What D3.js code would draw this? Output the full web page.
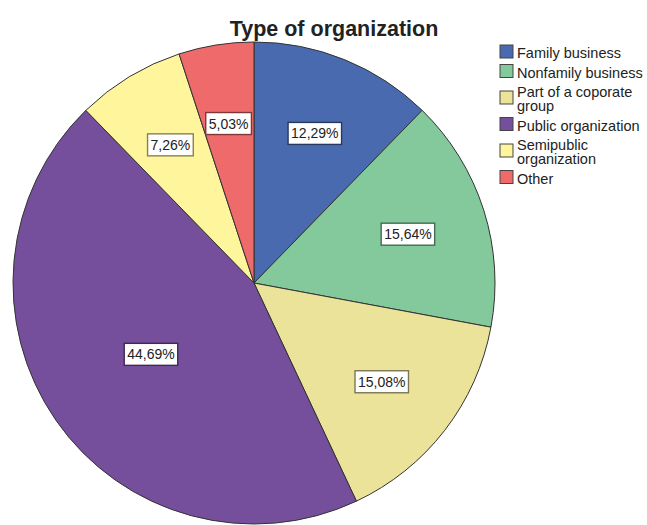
<!DOCTYPE html>
<html>
<head>
<meta charset="utf-8">
<script src="https://cdn.jsdelivr.net/npm/d3@7"></script>
<style>
  body { margin: 0; background: #fff; }
  svg { display: block; font-family: "Liberation Sans", Arial, sans-serif; }
</style>
</head>
<body>
<svg id="chart" width="647" height="525"></svg>
<script>
// data
const categories = ["Family business", "Nonfamily business", "Part of a coporate group",
  "Public organization", "Semipublic organization", "Other"];
const percents = [12.29, 15.64, 15.08, 44.69, 7.26, 5.03];
const legendLines = [["Family business"], ["Nonfamily business"], ["Part of a coporate", "group"],
  ["Public organization"], ["Semipublic", "organization"], ["Other"]];
const colors = ["#4a6ab0", "#83c99b", "#ece39b", "#754f9b", "#fff59d", "#ef6a6b"];

const width = 647, height = 525;
const cx = 254, cy = 283, radius = 241;

const data = categories.map((c, i) => ({ name: c, pct: percents[i], lines: legendLines[i] }));

const color = d3.scaleOrdinal().domain(categories).range(colors);
const fmt = v => d3.format(".2f")(v).replace(".", ",") + "%";

const svg = d3.select("#chart");

// title
svg.append("text")
  .attr("x", 334).attr("y", 36)
  .attr("text-anchor", "middle")
  .style("font-size", "21.5px").style("font-weight", "bold").style("fill", "#222")
  .text("Type of organization");

//////////////////
// Pie
//////////////////
const pie = d3.pie().sort(null).value(d => d.pct);
const arc = d3.arc().innerRadius(0).outerRadius(radius);
const arcs = pie(data);

const g = svg.append("g").attr("transform", `translate(${cx},${cy})`);

g.selectAll("path")
  .data(arcs)
  .join("path")
  .attr("d", arc)
  .attr("fill", d => color(d.data.name))
  .attr("stroke", "#333")
  .attr("stroke-width", 1);

// labels: big slice label sits closer to the centre
const labelArc = d => {
  const r = d.data.pct > 40 ? radius * 0.52 : radius * 0.67;
  return d3.arc().innerRadius(r).outerRadius(r).centroid(d);
};

const labels = g.selectAll("g.lab")
  .data(arcs)
  .join("g")
  .attr("class", "lab")
  .attr("transform", d => `translate(${labelArc(d)})`);

labels.append("text")
  .attr("text-anchor", "middle")
  .attr("dy", "0.36em")
  .style("font-size", "14px").style("fill", "#222")
  .text(d => fmt(d.data.pct));

labels.each(function (d) {
  const t = d3.select(this).select("text");
  const bb = t.node().getBBox();
  d3.select(this).insert("rect", "text")
    .attr("x", bb.x - 3).attr("y", -11)
    .attr("width", bb.width + 6).attr("height", 22)
    .attr("fill", "#fff")
    .attr("stroke", d3.color(color(d.data.name)).darker(1.8))
    .attr("stroke-width", 1.4);
});

//////////////////
// Legend
//////////////////
const legend = svg.append("g").attr("transform", "translate(500,0)");
let base = 58;
data.forEach(d => {
  const n = d.lines.length;
  const item = legend.append("g");
  item.append("rect")
    .attr("x", 0).attr("y", base - 11 + (n - 1) * 7 - 2)
    .attr("width", 13).attr("height", 13)
    .attr("fill", color(d.name))
    .attr("stroke", "#444").attr("stroke-width", 1);
  const t = item.append("text")
    .attr("x", 17).attr("y", base)
    .style("font-size", "14.5px").style("fill", "#222");
  d.lines.forEach((l, i) => {
    t.append("tspan").attr("x", 17).attr("y", base + i * 14).text(l);
  });
  base += (n - 1) * 14 + 19.5;
});
</script>
</body>
</html>
